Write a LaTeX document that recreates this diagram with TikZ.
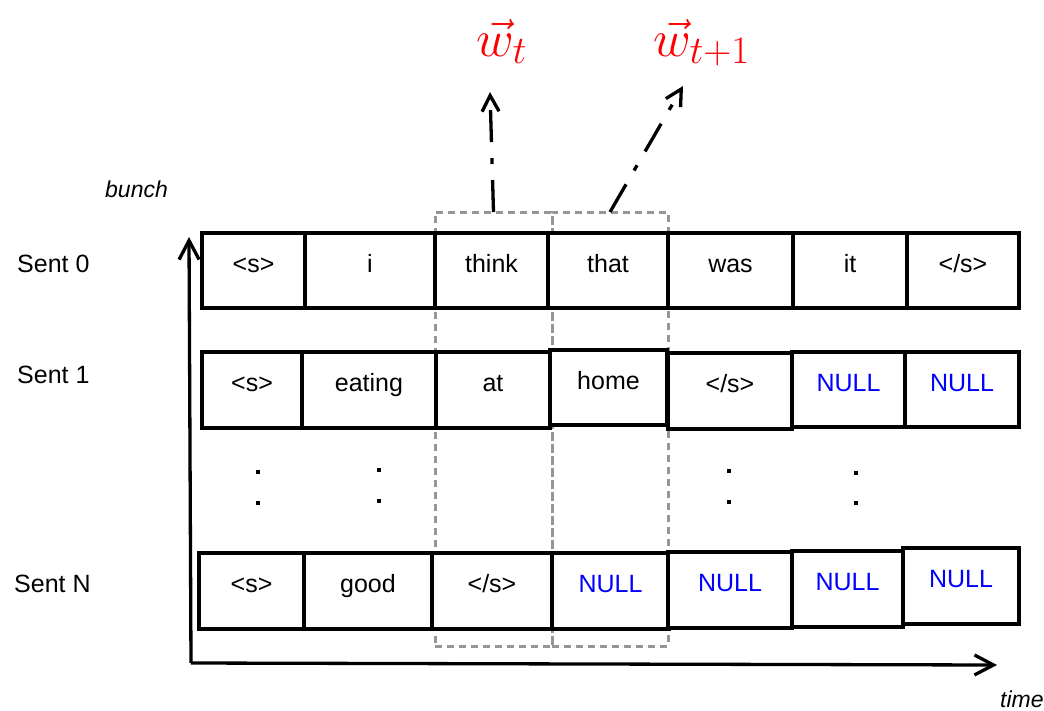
\RequirePackage{fix-cm}
\documentclass[tikz,border=0pt]{standalone}
\usepackage{fontspec}
\setmainfont{Liberation Sans}
\usetikzlibrary{arrows.meta}
\DeclareMathSizes{52}{52}{39}{27}
\newcommand\mycell[6]{%
  \pgfmathsetmacro\cw{#4-#2}\pgfmathsetmacro\ch{#5-#3}%
  \node[cell, minimum width=\cw pt, minimum height=\ch pt, anchor=north west] (#1) at (#2,#3) {#6};}
\newcommand\mywin[5]{%
  \pgfmathsetmacro\cw{#4-#2}\pgfmathsetmacro\ch{#5-#3}%
  \node[winbox, minimum width=\cw pt, minimum height=\ch pt, anchor=north west] (#1) at (#2,#3) {};}
\newcommand\nl{\textcolor{nullblue}{NULL}}
\definecolor{nullblue}{RGB}{0,0,255}
\definecolor{wred}{RGB}{255,0,0}
\definecolor{wingray}{RGB}{150,150,150}
\tikzset{
  cell/.style={draw=black, line width=3.2pt, fill=white, inner sep=0pt, outer sep=0pt,
    text height=9pt, text depth=6pt, font=\fontsize{25}{30}\selectfont},
  winbox/.style={draw=wingray, line width=3pt, dash pattern=on 7pt off 5pt, inner sep=0pt, outer sep=0pt},
  axis/.style={line width=3.3pt, -{Straight Barb[length=19pt, width=20pt, line width=3.3pt]}},
  pointer/.style={line width=3.3pt, dash pattern=on 32pt off 16pt on 6pt off 16pt,
    -{Straight Barb[length=16pt, width=17pt, line width=3.3pt]}},
  lab/.style={inner sep=0pt, anchor=base west, font=\fontsize{25}{30}\selectfont},
  axlab/.style={inner sep=0pt, anchor=base west, font=\fontsize{23}{28}\selectfont\itshape},
  wlab/.style={inner sep=0pt, anchor=base west, text=wred, font=\fontsize{52}{60}\selectfont},
}
\begin{document}
\begin{tikzpicture}[x=1pt,y=-1pt]
\useasboundingbox (0,0) rectangle (1044,710);
% selection windows
\mywin{win0}{435}{212}{552}{646}
\mywin{win1}{552}{212}{668}{646}
% row 0
\mycell{a1}{202}{233}{305}{308}{<s>}
\mycell{a2}{305}{233}{435}{308}{i}
\mycell{a3}{435}{233}{548}{308}{think}
\mycell{a4}{548}{233}{668}{308}{that}
\mycell{a5}{668}{233}{793}{308}{was}
\mycell{a6}{793}{233}{907}{308}{it}
\mycell{a7}{907}{233}{1019}{308}{</s>}
% row 1
\mycell{b1}{202}{352}{302}{428}{<s>}
\mycell{b2}{302}{352}{436}{428}{eating}
\mycell{b3}{436}{352}{550}{428}{at}
\mycell{b4}{550}{350}{667}{425}{home}
\mycell{b5}{668}{353}{792}{429}{</s>}
\mycell{b6}{792}{352}{905}{427}{\nl}
\mycell{b7}{905}{352}{1019}{427}{\nl}
% row N
\mycell{c1}{199}{553}{304}{629}{<s>}
\mycell{c2}{304}{553}{432}{629}{good}
\mycell{c3}{432}{553}{552}{629}{</s>}
\mycell{c4}{552}{553}{669}{629}{\nl}
\mycell{c5}{668}{552}{792}{628}{\nl}
\mycell{c6}{792}{551}{903}{627}{\nl}
\mycell{c7}{903}{548}{1019}{624}{\nl}
% ellipsis dots
\foreach \x/\y in {258/472,258/503,379/470,379/501,729/471,729/502,856/473,856/503}
  \fill (\x-1.6,\y-1.6) rectangle (\x+1.6,\y+1.6);
% row labels
\node[lab] (s0) at (17,272) {Sent 0};
\node[lab] (s1) at (17,383) {Sent 1};
\node[lab] (sN) at (14,592) {Sent N};
% axes
\coordinate (origin) at (191,663);
\coordinate (ytop) at (189,237);
\coordinate (xend) at (997,665);
\draw[axis] (origin) -- (ytop);
\draw[axis] (origin) -- (xend);
\node[axlab] (bunch) at (105,197) {bunch};
\node[axlab] (time) at (1000,707) {time};
% outputs
\node[wlab] (wt) at (476,56) {$\vec{w}_t$};
\node[wlab] (wt1) at (653,56) {$\vec{w}_{t+1}$};
\coordinate (p0) at (490,92);
\coordinate (p1) at (683,86);
\draw[pointer] (win0.north) -- (p0);
\draw[pointer] (win1.north) -- (p1);
\end{tikzpicture}
\end{document}
